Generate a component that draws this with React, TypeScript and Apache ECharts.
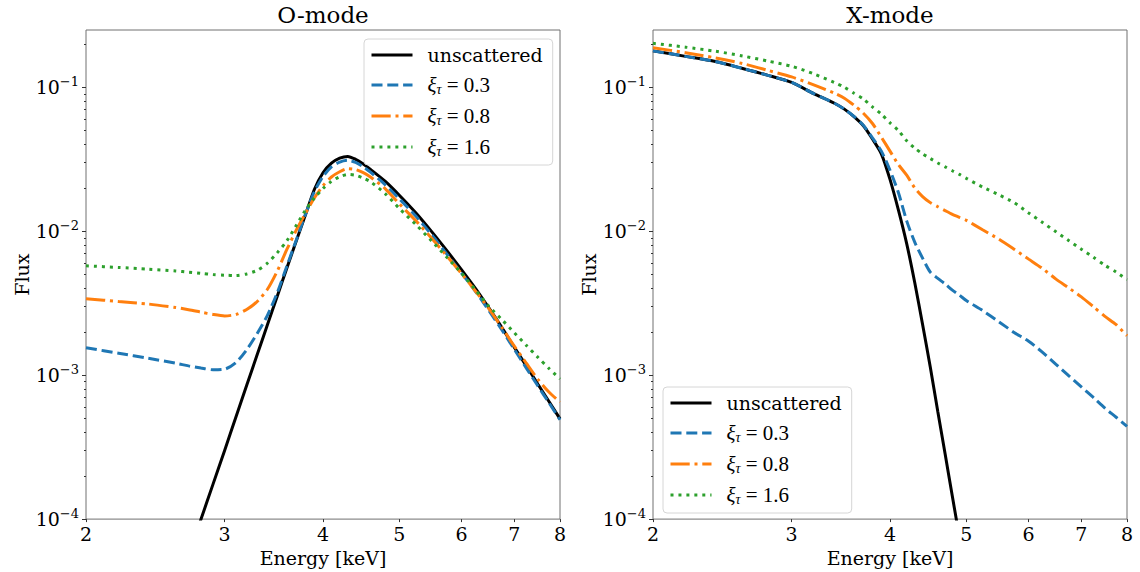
import React, { useEffect, useRef } from "react";
import * as echarts from "echarts";

// ---------- data ----------
const seriesNames = ["unscattered", "ξτ = 0.3", "ξτ = 0.8", "ξτ = 1.6"];

const energyO = [2.0, 2.2, 2.4, 2.6, 2.7, 2.8, 2.9, 3.0, 3.1, 3.2, 3.3, 3.4, 3.5, 3.6, 3.7, 3.8, 3.9, 4.0, 4.1, 4.2, 4.3, 4.4, 4.5, 4.6, 4.8, 5.0, 5.25, 5.5, 5.75, 6.0, 6.25, 6.5, 6.75, 7.0, 7.25, 7.5, 7.75, 8.0];
const oUnscattered = [null, null, null, null, 5.6e-5, 1.0e-4, 1.75e-4, 3.0e-4, 5.1e-4, 8.5e-4, 1.39e-3, 2.24e-3, 3.55e-3, 5.58e-3, 8.6e-3, 0.0130, 0.0195, 0.0255, 0.0297, 0.0322, 0.0331, 0.0316, 0.0293, 0.0268, 0.0222, 0.0178, 0.0134, 0.0099, 0.0073, 0.00539, 0.00399, 0.00292, 0.00214, 0.00156, 0.00116, 0.000865, 0.000653, 0.000497];
const oXi03 = [1.55e-3, 1.42e-3, 1.31e-3, 1.21e-3, 1.16e-3, 1.12e-3, 1.09e-3, 1.10e-3, 1.22e-3, 1.50e-3, 1.95e-3, 2.6e-3, 3.75e-3, 5.75e-3, 8.7e-3, 0.0131, 0.0188, 0.0240, 0.0280, 0.0302, 0.0311, 0.0301, 0.0280, 0.0256, 0.0210, 0.0168, 0.0127, 0.0094, 0.0069, 0.0051, 0.00381, 0.00280, 0.00206, 0.00151, 0.00112, 0.00084, 0.00064, 0.00049];
const oXi08 = [3.4e-3, 3.25e-3, 3.12e-3, 2.95e-3, 2.85e-3, 2.74e-3, 2.64e-3, 2.58e-3, 2.64e-3, 2.86e-3, 3.25e-3, 3.95e-3, 5.3e-3, 7.5e-3, 0.0102, 0.0133, 0.0170, 0.0207, 0.0238, 0.0259, 0.0272, 0.0268, 0.0255, 0.0237, 0.0197, 0.0155, 0.0118, 0.0089, 0.0067, 0.00507, 0.00383, 0.00289, 0.00214, 0.00159, 0.00121, 0.000935, 0.00076, 0.00065];
const oXi16 = [5.75e-3, 5.6e-3, 5.45e-3, 5.3e-3, 5.2e-3, 5.1e-3, 5.0e-3, 4.95e-3, 4.92e-3, 5.05e-3, 5.35e-3, 6.0e-3, 7.1e-3, 8.6e-3, 0.0110, 0.0140, 0.0170, 0.0198, 0.0222, 0.0239, 0.0248, 0.0245, 0.0234, 0.0220, 0.0182, 0.0144, 0.0111, 0.00852, 0.00656, 0.0051, 0.0039, 0.00300, 0.00243, 0.00197, 0.00161, 0.00133, 0.00111, 0.00094];

const energyX = [2.0, 2.2, 2.4, 2.6, 2.8, 3.0, 3.2, 3.4, 3.5, 3.6, 3.7, 3.8, 3.9, 4.0, 4.1, 4.2, 4.3, 4.4, 4.5, 4.6, 4.7, 4.8, 4.9, 5.0, 5.25, 5.5, 5.75, 6.0, 6.25, 6.5, 6.75, 7.0, 7.25, 7.5, 7.75, 8.0];
const xUnscattered = [0.179, 0.164, 0.151, 0.135, 0.121, 0.108, 0.0904, 0.0775, 0.0705, 0.0625, 0.0540, 0.0437, 0.0345, 0.0229, 0.0140, 0.0082, 0.0044, 0.00225, 0.00114, 5.6e-4, 2.83e-4, 1.44e-4, 7.5e-5, null, null, null, null, null, null, null, null, null, null, null, null, null];
const xXi03 = [0.179, 0.164, 0.151, 0.135, 0.121, 0.108, 0.0904, 0.0775, 0.0705, 0.0627, 0.0545, 0.0445, 0.0360, 0.0265, 0.0185, 0.0118, 0.0084, 0.0065, 0.0052, 0.0047, 0.0043, 0.0039, 0.0036, 0.0033, 0.0028, 0.00235, 0.00198, 0.00172, 0.00144, 0.00119, 0.00099, 0.00083, 0.00070, 0.00059, 0.00051, 0.00044];
const xXi08 = [0.188, 0.174, 0.160, 0.146, 0.131, 0.118, 0.104, 0.091, 0.084, 0.075, 0.066, 0.056, 0.045, 0.036, 0.029, 0.0245, 0.0200, 0.0174, 0.0158, 0.0148, 0.0139, 0.0131, 0.0125, 0.0119, 0.0102, 0.0088, 0.0075, 0.0064, 0.0055, 0.00465, 0.00403, 0.00350, 0.00299, 0.00256, 0.00224, 0.00188];
const xXi16 = [0.202, 0.190, 0.178, 0.165, 0.152, 0.140, 0.124, 0.108, 0.100, 0.091, 0.083, 0.073, 0.065, 0.0566, 0.050, 0.0425, 0.0378, 0.0345, 0.0320, 0.0298, 0.0280, 0.0263, 0.0248, 0.0233, 0.0202, 0.0179, 0.0158, 0.0134, 0.0115, 0.0099, 0.0086, 0.0075, 0.0066, 0.0058, 0.0052, 0.0046];

const panelTitles = ["O-mode", "X-mode"];
const energyTicks = [2, 3, 4, 5, 6, 7, 8];
const fluxMajorTicks = [1e-4, 1e-3, 1e-2, 1e-1];
const fluxMinorTicks = [2e-4, 3e-4, 4e-4, 5e-4, 6e-4, 7e-4, 8e-4, 9e-4, 2e-3, 3e-3, 4e-3, 5e-3, 6e-3, 7e-3, 8e-3, 9e-3, 2e-2, 3e-2, 4e-2, 5e-2, 6e-2, 7e-2, 8e-2, 9e-2, 2e-1];
const energyRange = [2, 8];
const fluxRange = [1e-4, 0.25];

// ---------- styles ----------
const FF = "DejaVu Serif";
const MF = "Liberation Serif";
const colors = ["#000000", "#1f77b4", "#ff7f0e", "#2ca02c"];
const dashes: any[] = ["solid", [11, 4.8], [19.2, 4.8, 3, 4.8], [3, 4.95]];
const grids = [
  { left: 86, top: 30, width: 474, height: 490 },
  { left: 653, top: 30, width: 474, height: 490 },
];

function legendFormatter(name: string) {
  if (name === "unscattered") return "{t|unscattered}";
  const v = name.split("=")[1].trim();
  return `{xi|ξ}{tau|τ}{v| = ${v}}`;
}

export default function App() {
  const ref = useRef<HTMLDivElement>(null);
  useEffect(() => {
    if (!ref.current) return;
    const chart = echarts.init(ref.current, null, { renderer: "svg" });
    const panels = [
      { energy: energyO, data: [oUnscattered, oXi03, oXi08, oXi16] },
      { energy: energyX, data: [xUnscattered, xXi03, xXi08, xXi16] },
    ];
    const series: any[] = [];
    panels.forEach((p, g) => {
      p.data.forEach((vals, i) => {
        const pts: any[] = [];
        p.energy.forEach((e, j) => {
          if (vals[j] != null) pts.push([e, vals[j]]);
        });
        series.push({
          type: "line",
          name: seriesNames[i],
          xAxisIndex: g,
          yAxisIndex: g,
          data: pts,
          symbol: "none",
          showSymbol: false,
          smooth: 0.25,
          silent: true,
          z: 2 + i,
          lineStyle: { color: colors[i], width: 3, type: dashes[i], cap: "butt" },
          itemStyle: { color: colors[i] },
        });
      });
    });

    const xAxes = grids.map((_, g) => ({
      type: "log",
      logBase: 10,
      gridIndex: g,
      min: energyRange[0],
      max: energyRange[1],
      name: "Energy [keV]",
      nameLocation: "middle",
      nameGap: 21,
      nameTextStyle: { fontFamily: FF, fontSize: 19, color: "#000" },
      axisLine: { show: false },
      splitLine: { show: false },
      minorTick: { show: false },
      axisTick: { show: true, length: 3, customValues: energyTicks, lineStyle: { color: "#333" } },
      axisLabel: {
        customValues: energyTicks,
        formatter: (v: number) => String(Math.round(v)),
        fontFamily: FF,
        fontSize: 19,
        color: "#000",
        margin: 5,
      },
    }));

    const yMajor = grids.map((_, g) => ({
      type: "log",
      logBase: 10,
      gridIndex: g,
      position: "left",
      min: fluxRange[0],
      max: fluxRange[1],
      name: "Flux",
      nameLocation: "middle",
      nameGap: 55,
      nameTextStyle: { fontFamily: FF, fontSize: 19, color: "#000" },
      axisLine: { show: false },
      splitLine: { show: false },
      minorTick: { show: false },
      axisTick: { show: true, length: 4, customValues: fluxMajorTicks, lineStyle: { color: "#333" } },
      axisLabel: {
        customValues: fluxMajorTicks,
        formatter: (v: number) => {
          const e = Math.round(Math.log10(v));
          return `{b|10}{s|\u2212${Math.abs(e)}}`;
        },
        fontFamily: FF,
        fontSize: 19,
        color: "#000",
        margin: 7,
        rich: {
          b: { fontFamily: FF, fontSize: 19, color: "#000", lineHeight: 22 },
          s: { fontFamily: FF, fontSize: 13, color: "#000", lineHeight: 14, padding: [0, 0, 12, 0] },
        },
      },
    }));

    const yMinor = grids.map((_, g) => ({
      type: "log",
      logBase: 10,
      gridIndex: g,
      position: "left",
      offset: 0,
      min: fluxRange[0],
      max: fluxRange[1],
      axisLine: { show: false },
      splitLine: { show: false },
      minorTick: { show: false },
      axisTick: { show: true, length: 2, customValues: fluxMinorTicks, lineStyle: { color: "#333" } },
      axisLabel: { show: false },
    }));

    const legendBase = {
      orient: "vertical",
      data: seriesNames,
      itemWidth: 41,
      itemHeight: 14,
      itemGap: 9,
      padding: [6, 10, 7, 6],
      backgroundColor: "rgba(255,255,255,0.8)",
      borderColor: "#d6d6d6",
      borderWidth: 1,
      borderRadius: 4,
      selectedMode: false,
      formatter: legendFormatter,
      itemStyle: { opacity: 0, borderWidth: 0 },
      lineStyle: { width: 3 },
      textStyle: {
        fontFamily: FF,
        fontSize: 19,
        color: "#000",
        lineHeight: 20,
        padding: [0, 0, 0, 10],
        rich: {
          t: { fontFamily: FF, fontSize: 19, color: "#000", lineHeight: 20 },
          xi: { fontFamily: MF, fontStyle: "italic", fontSize: 21, color: "#000", lineHeight: 20 },
          tau: { fontFamily: MF, fontStyle: "italic", fontSize: 14, color: "#000", lineHeight: 14, padding: [8, 0, 0, 0] },
          v: { fontFamily: MF, fontSize: 21, color: "#000", lineHeight: 20 },
        },
      },
    };

    chart.setOption({
      animation: false,
      backgroundColor: "#ffffff",
      title: panelTitles.map((t, g) => ({
        text: t,
        left: grids[g].left + grids[g].width / 2,
        top: 3,
        padding: 0,
        textAlign: "center",
        textStyle: { fontFamily: FF, fontSize: 23, fontWeight: "normal", color: "#000" },
      })),
      grid: grids.map((gr) => ({
        ...gr,
        show: true,
        borderColor: "#707070",
        borderWidth: 1,
        backgroundColor: "transparent",
        containLabel: false,
      })),
      legend: [
        { ...legendBase, left: 364, top: 39 },
        { ...legendBase, left: 663, top: 387 },
      ],
      xAxis: xAxes,
      yAxis: [...yMajor, ...yMinor],
      series,
    });
    return () => chart.dispose();
  }, []);
  return <div ref={ref} style={{ position: "absolute", left: 0, top: 0, width: 1140, height: 572 }} />;
}
